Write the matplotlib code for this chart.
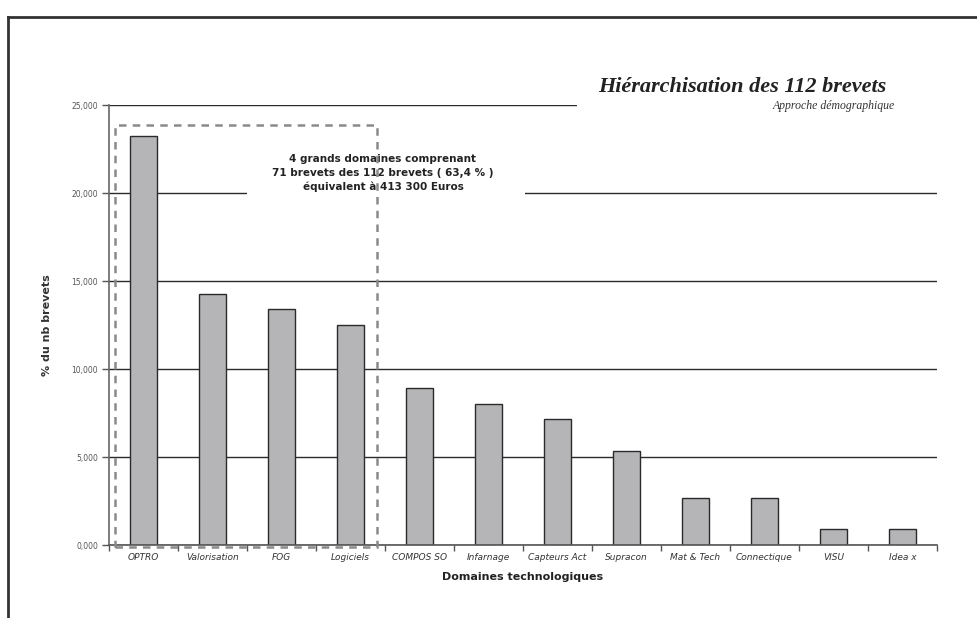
import matplotlib
matplotlib.use("Agg")
import matplotlib.pyplot as plt
from matplotlib.patches import Rectangle
from matplotlib.lines import Line2D
import numpy as np

categories = ["OPTRO", "Valorisation", "FOG", "Logiciels", "COMPOS SO", "Infarnage",
              "Capteurs Act", "Supracon", "Mat & Tech", "Connectique", "VISU", "Idea x"]
nb_brevets = [26, 16, 15, 14, 10, 9, 8, 6, 3, 3, 1, 1]
total = 112
pct = [n / total * 100 for n in nb_brevets]
yticks = [0, 5, 10, 15, 20, 25]
ytick_labels = ["0,000", "5,000", "10,000", "15,000", "20,000", "25,000"]

W, H = 978, 618
fig = plt.figure(figsize=(W / 100, H / 100), dpi=100)
fig.patch.set_facecolor("white")

def fx(px):
    return px / W

def fy(py):
    return 1 - py / H

narrow = ["Liberation Sans Narrow", "DejaVu Sans"]

ax = fig.add_axes([fx(109), fy(545), fx(937) - fx(109), fy(105) - fy(545)])
x = np.arange(len(categories))
ax.bar(x, pct, width=0.4, color="#b5b5b8", edgecolor="#2a2a2a", linewidth=1.0, zorder=2)
ax.set_xlim(-0.5, len(categories) - 0.5)
ax.set_ylim(0, 25)

ax.set_yticks(yticks)
ax.set_yticklabels(ytick_labels, fontsize=5.5, color="#555555")
ax.yaxis.grid(True, color="#2a2a2a", linewidth=1.0, zorder=0)
ax.set_axisbelow(True)

ax.set_xticks(np.arange(len(categories) + 1) - 0.5)
ax.set_xticklabels([""] * (len(categories) + 1))
ax.set_xticks(x, minor=True)
ax.set_xticklabels(categories, minor=True, fontsize=6.5, style="italic", color="#333333",
                   family=narrow)
ax.tick_params(axis="x", which="minor", length=0, pad=6)
ax.tick_params(axis="x", which="major", length=4, color="#555555", width=1)
ax.tick_params(axis="y", length=5, color="#555555", width=1, pad=3)

for side in ["top", "right"]:
    ax.spines[side].set_visible(False)
ax.spines["left"].set_color("#666666")
ax.spines["bottom"].set_color("#555555")
ax.spines["left"].set_linewidth(1.2)
ax.spines["bottom"].set_linewidth(1.2)

ax.set_ylabel("% du nb brevets", fontsize=8, fontweight="bold", color="#333333",
              family=narrow, labelpad=14)
ax.set_xlabel("Domaines technologiques", fontsize=8, fontweight="bold", color="#222222",
              family=narrow, labelpad=7)

# white areas behind title and annotation (interrupt gridlines)
ax.add_patch(Rectangle((fx(577), fy(120)), fx(950) - fx(577), fy(70) - fy(120),
                       transform=fig.transFigure, facecolor="white", edgecolor="none",
                       zorder=3, clip_on=False))
ax.add_patch(Rectangle((fx(247), fy(203)), fx(525) - fx(247), fy(143) - fy(203),
                       transform=fig.transFigure, facecolor="white", edgecolor="none",
                       zorder=3, clip_on=False))

# dashed box around first 4 domains
ax.add_patch(Rectangle((-0.41, -0.1), 3.79, 23.95, facecolor="none", edgecolor="#8a8a8a",
                       linewidth=1.8, linestyle=(0, (3, 2.5)), zorder=6, clip_on=False))

ax.text(fx(383), fy(173), "4 grands domaines comprenant\n71 brevets des 112 brevets ( 63,4 % )\néquivalent à 413 300 Euros",
        transform=fig.transFigure, ha="center", va="center", fontsize=7.5, fontweight="bold",
        color="#222222", linespacing=1.45, family=narrow, zorder=5)

fig.text(fx(886), fy(87), "Hiérarchisation des 112 brevets", ha="right", va="center",
         fontsize=16, fontweight="bold", style="italic", family=["Liberation Serif", "DejaVu Serif"],
         color="#222222")
fig.text(fx(895), fy(106), "Approche démographique", ha="right", va="center",
         fontsize=8.5, style="italic", family=["Liberation Serif", "DejaVu Serif"], color="#333333")

# outer frame
fig.add_artist(Line2D([fx(8), fx(8)], [0, fy(17)], transform=fig.transFigure, color="#333333", linewidth=2))
fig.add_artist(Line2D([fx(8), 1], [fy(17), fy(17)], transform=fig.transFigure, color="#333333", linewidth=2))

fig.savefig("out.png", dpi=100, facecolor="white")
